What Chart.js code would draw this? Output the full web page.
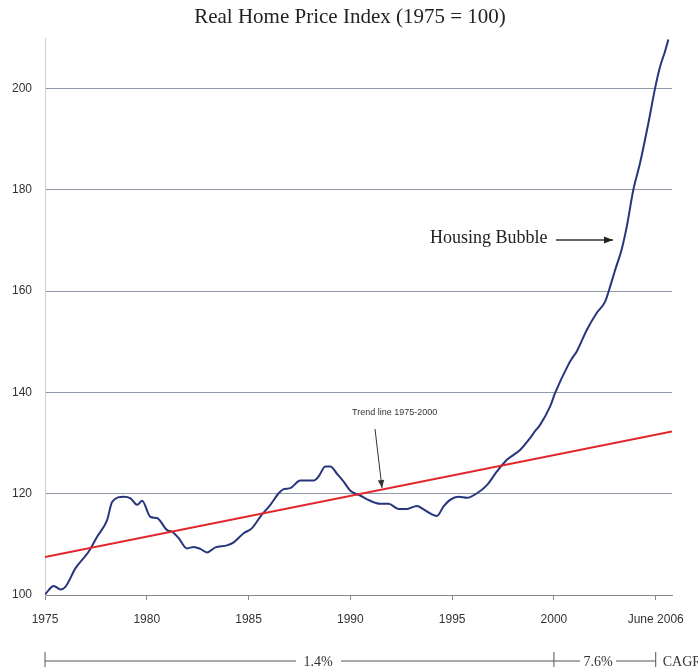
<!DOCTYPE html>
<html><head><meta charset="utf-8">
<script src="https://cdn.jsdelivr.net/npm/chart.js@4.4.0/dist/chart.umd.min.js"></script>
<style>html,body{margin:0;padding:0;background:#fff}#wrap{width:698px;height:667px;position:relative}</style>
</head><body><div id="wrap"><canvas id="c"></canvas></div>
<script>
const chartTitle = 'Real Home Price Index (1975 = 100)';
const priceYears = [1975.0,1975.43,1975.76,1976.0,1976.5,1977.15,1977.56,1978.05,1978.3,1978.87,1979.2,1979.53,1979.77,1980.18,1980.5,1981.0,1981.24,1981.57,1981.98,1982.3,1982.63,1982.96,1983.37,1983.94,1984.27,1984.76,1985.17,1985.58,1986.07,1986.48,1986.72,1987.05,1987.54,1988.2,1988.44,1988.77,1989.02,1989.35,1989.67,1990.0,1990.5,1990.82,1991.47,1991.88,1992.37,1992.78,1993.27,1993.6,1993.92,1994.25,1994.58,1994.9,1995.31,1995.73,1996.22,1996.71,1997.2,1997.69,1998.35,1998.83,1999.08,1999.32,1999.82,2000.06,2000.71,2000.87,2001.12,2001.62,2002.1,2002.52,2002.76,2003.0,2003.33,2003.58,2003.9,2004.23,2004.64,2004.97,2005.22,2005.46,2005.62];
const priceValues = [100.1,101.8,101.1,101.6,105.3,108.6,111.5,114.8,118.4,119.4,119.1,117.8,118.6,115.4,115.2,112.8,112.5,111.2,109.2,109.5,109.1,108.4,109.4,109.8,110.4,112.2,113.2,115.5,117.8,120.1,120.9,121.1,122.6,122.6,123.4,125.4,125.4,123.9,122.4,120.6,119.6,118.9,118.0,118.0,117.0,117.0,117.6,116.9,116.1,115.6,117.5,118.8,119.4,119.2,120.1,121.7,124.4,126.7,128.7,131.0,132.4,133.6,137.3,139.9,145.5,146.6,148.1,152.4,155.7,158.0,160.9,164.1,168.3,172.8,180.0,185.3,193.2,200.1,204.4,207.4,209.7];
const trendYears = [1975, 2005.8];
const trendValues = [107.5, 132.3];
const xTickValues = [1975,1980,1985,1990,1995,2000,2005];
const xTickLabels = ['1975','1980','1985','1990','1995','2000','June 2006'];
const yTickValues = [100,120,140,160,180,200];
const bubbleLabel = 'Housing Bubble';
const trendLabel = 'Trend line 1975-2000';
const cagrEarly = '1.4%';
const cagrLate = '7.6%';
const cagrLabel = 'CAGR';

const priceData = priceYears.map((x,i)=>({x, y: priceValues[i]}));
const trendData = trendYears.map((x,i)=>({x, y: trendValues[i]}));

function arrow(ctx, x1, y1, x2, y2, head) {
  ctx.beginPath(); ctx.moveTo(x1,y1); ctx.lineTo(x2,y2); ctx.stroke();
  const a = Math.atan2(y2-y1, x2-x1);
  ctx.beginPath();
  ctx.moveTo(x2,y2);
  ctx.lineTo(x2 - head*Math.cos(a) + head*0.4*Math.sin(a), y2 - head*Math.sin(a) - head*0.4*Math.cos(a));
  ctx.lineTo(x2 - head*Math.cos(a) - head*0.4*Math.sin(a), y2 - head*Math.sin(a) + head*0.4*Math.cos(a));
  ctx.closePath(); ctx.fill();
}

const annotations = {
  id: 'annotations',
  afterDraw(chart) {
    const ctx = chart.ctx;
    const xs = chart.scales.x;
    ctx.save();
    // Title
    ctx.fillStyle = '#222';
    ctx.font = '21px "Liberation Serif", serif';
    ctx.textBaseline = 'middle'; ctx.textAlign = 'center';
    ctx.fillText(chartTitle, 350, 17);
    // Housing bubble
    ctx.fillStyle = '#222'; ctx.strokeStyle = '#333'; ctx.lineWidth = 1.3;
    ctx.font = '18px "Liberation Serif", serif';
    ctx.textAlign = 'left';
    ctx.fillText(bubbleLabel, 430, 238);
    arrow(ctx, 556, 240, 613, 240, 9);
    // Trend line label
    ctx.font = '9px "Liberation Sans", Arial, sans-serif';
    ctx.fillStyle = '#333';
    ctx.fillText(trendLabel, 352, 413);
    ctx.lineWidth = 1;
    arrow(ctx, 375, 429, 382, 488, 8);
    // CAGR bar
    const y = 661;
    const x0 = xs.getPixelForValue(1975), x1 = xs.getPixelForValue(2000), x2 = xs.getPixelForValue(2005);
    ctx.strokeStyle = '#555'; ctx.lineWidth = 1;
    ctx.beginPath();
    ctx.moveTo(x0, y); ctx.lineTo(296, y);
    ctx.moveTo(341, y); ctx.lineTo(580, y);
    ctx.moveTo(616, y); ctx.lineTo(x2, y);
    ctx.moveTo(x0, 652); ctx.lineTo(x0, 668);
    ctx.moveTo(x1, 652); ctx.lineTo(x1, 668);
    ctx.moveTo(x2, 652); ctx.lineTo(x2, 668);
    ctx.stroke();
    ctx.font = '14px "Liberation Serif", serif';
    ctx.fillStyle = '#333'; ctx.textAlign = 'center';
    ctx.fillText(cagrEarly, 318, y+1);
    ctx.fillText(cagrLate, 598, y+1);
    ctx.textAlign = 'left';
    ctx.fillText(cagrLabel, x2 + 7, y+1);
    ctx.restore();
  }
};

const tickFont = {family: '"Liberation Sans", Arial, sans-serif', size: 12};

new Chart(document.getElementById('c'), {
  type: 'line',
  data: {
    datasets: [
      {label: 'Trend line 1975-2000', data: trendData, borderColor: '#e3262b', borderWidth: 2, pointRadius: 0, tension: 0},
      {label: 'Real Home Price Index', data: priceData, borderColor: '#27367c', borderWidth: 2, pointRadius: 0, cubicInterpolationMode: 'monotone'}
    ]
  },
  options: {
    responsive: true, maintainAspectRatio: false, animation: false, devicePixelRatio: 1,
    layout: {padding: {top: 38, left: 0, right: 26, bottom: 0}},
    plugins: {
      legend: {display: false},
      tooltip: {enabled: false},
      title: {display: false}
    },
    scales: {
      x: {
        type: 'linear', min: 1975, max: 2005.8,
        afterBuildTicks: s => { s.ticks = xTickValues.map(v => ({value: v})); },
        afterFit: s => { s.height = 72; },
        ticks: {color: '#333', font: tickFont, padding: 12, maxRotation: 0, autoSkip: false,
          callback: (v) => { const i = xTickValues.indexOf(v); return i >= 0 ? xTickLabels[i] : ''; }},
        grid: {drawOnChartArea: false, drawTicks: true, tickLength: 5, color: '#888'},
        border: {color: '#888', width: 1}
      },
      y: {
        type: 'linear', min: 100, max: 210,
        afterBuildTicks: s => { s.ticks = yTickValues.map(v => ({value: v})); },
        afterFit: s => { s.width = 45; },
        ticks: {color: '#333', font: tickFont, padding: 13},
        grid: {drawTicks: false, color: '#8e9ba6', lineWidth: 1},
        border: {color: '#d0d0d0', width: 1}
      }
    }
  },
  plugins: [annotations]
});
</script>
</body></html>
